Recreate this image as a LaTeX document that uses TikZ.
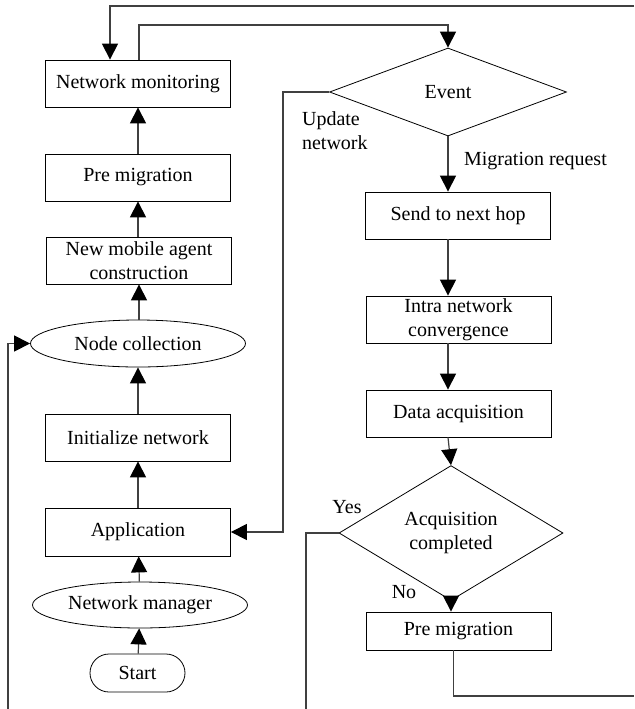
\documentclass[tikz,border=0pt]{standalone}
\usepackage{fontspec}
\setmainfont{Liberation Serif}
\usetikzlibrary{arrows.meta,shapes.geometric}

\begin{document}
\begin{tikzpicture}[x=0.5pt, y=-0.5pt, >={Triangle[length=8pt,width=8pt,color=black]},
    every node/.style={align=center, font=\fontsize{10}{12}\selectfont},
    procbox/.style={draw, minimum width=92.5pt, minimum height=23.5pt, inner sep=1pt},
    ovalbox/.style={draw, ellipse, minimum width=107.5pt, minimum height=23.5pt, inner sep=0pt},
    choice/.style={draw, diamond, inner sep=0pt},
    flow/.style={draw=black!75, line width=0.6pt}]
  \useasboundingbox (0,0) rectangle (634,709);

  % left column
  \node[procbox] (mon) at (138,83.5) {Network monitoring};
  \node[procbox] (prem) at (138,177.5) {Pre migration};
  \node[procbox] (newag) at (139,260.5) {New mobile agent\\construction};
  \node[ovalbox] (coll) at (138,343.5) {Node collection};
  \node[procbox] (init) at (138,437.5) {Initialize network};
  \node[procbox, minimum height=24pt] (app) at (138,532) {Application};
  \node[ovalbox, minimum height=23pt] (mgr) at (140,605) {Network manager};
  \node[draw, rounded corners=9.5pt, minimum width=47.5pt, minimum height=19pt] (start) at (137.5,673) {Start};

  % right column
  \node[choice, minimum width=118.5pt, minimum height=44pt] (event) at (448,92) {Event};
  \node[procbox] (send) at (458,215.5) {Send to next hop};
  \node[procbox] (intra) at (458.5,319.5) {Intra network\\convergence};
  \node[procbox] (data) at (458.5,413.5) {Data acquisition};
  \node[choice, minimum width=112pt, minimum height=51pt] (acq) at (451,533) {Acquisition\\completed};
  \node[procbox, minimum height=19pt] (prem2) at (458.5,631) {Pre migration};

  % labels
  \node[align=left, anchor=west] (lupd) at (295,131) {Update\\network};
  \node[anchor=west] (lmig) at (457,161) {Migration request};
  \node (lyes) at (347,507) {Yes};
  \node (lno) at (404,592) {No};

  % free ends at the picture edges
  \coordinate (eTop) at (634,6);
  \coordinate (eBot) at (634,696);
  \coordinate (eYes) at (306,709);
  \coordinate (eLft) at (8,709);
  \coordinate (cUpd) at (283,92);
  \coordinate (cMon) at (139,25);

  % left chain
  \draw[flow,->] (start) -- (mgr);
  \draw[flow,->] (mgr) -- (app);
  \draw[flow,->] (app) -- (init);
  \draw[flow,->] (init) -- (coll);
  \draw[flow,->] (coll.north -| newag) -- (newag);
  \draw[flow,->] (newag.north -| prem) -- (prem);
  \draw[flow,->] (prem) -- (mon);

  % right chain
  \draw[flow,->] (event.south) -- (event.south |- send.north);
  \draw[flow,->] (event.south |- send.south) -- (event.south |- intra.north);
  \draw[flow,->] (event.south |- intra.south) -- (event.south |- data.north);
  \draw[flow,->] (event.south |- data.south) -- (acq.north);
  \draw[flow,->] (acq.south) -- (acq.south |- prem2.north);

  % loops
  \draw[flow,->] (mon.north -| cMon) -- (cMon) -| (event.north);
  \draw[flow,->] (eTop) -| ([xshift=-14pt]mon.north);
  \draw[flow] ([xshift=-2.5pt]prem2.south) |- (eBot);
  \draw[flow,->] (event.west) -- (cUpd) |- (app.east);
  \draw[flow] (acq.west) -| (eYes);
  \draw[flow,->] (eLft) |- (coll.west);
\end{tikzpicture}
\end{document}
